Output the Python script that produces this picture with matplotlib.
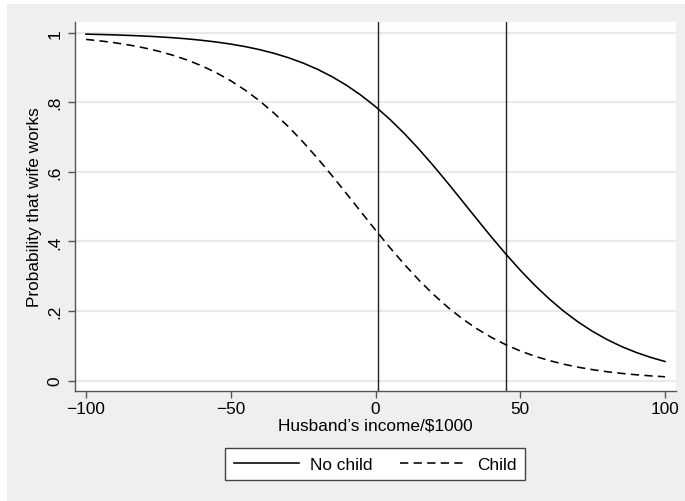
import matplotlib
matplotlib.use("Agg")
import matplotlib.pyplot as plt
from matplotlib.patches import Rectangle
from matplotlib.lines import Line2D

plt.rcParams['font.family'] = ['Liberation Sans', 'DejaVu Sans']

# Husband's income ($1000) at which the fitted probabilities are listed
income = [-100, -95, -90, -85, -80, -75, -70, -65, -60, -55, -50, -45, -40,
          -35, -30, -25, -20, -15, -10, -5, 0, 5, 10, 15, 20, 25, 30, 35,
          40, 45, 50, 55, 60, 65, 70, 75, 80, 85, 90, 95, 100]

# Probability that wife works, no child at home
p_no_child = [0.9958, 0.9948, 0.9936, 0.9921, 0.9904, 0.9882, 0.9855, 0.9822,
              0.9781, 0.9732, 0.9672, 0.9600, 0.9512, 0.9406, 0.9279, 0.9127,
              0.8947, 0.8735, 0.8488, 0.8202, 0.7875, 0.7507, 0.7099, 0.6654,
              0.6177, 0.5677, 0.5162, 0.4644, 0.4134, 0.3641, 0.3176, 0.2744,
              0.2351, 0.1998, 0.1687, 0.1416, 0.1182, 0.0982, 0.0813, 0.0671,
              0.0552]

# Probability that wife works, with a child
p_child = [0.9807, 0.9763, 0.9710, 0.9644, 0.9565, 0.9469, 0.9352, 0.9213,
           0.9047, 0.8849, 0.8618, 0.8348, 0.8038, 0.7685, 0.7291, 0.6857,
           0.6388, 0.5890, 0.5374, 0.4850, 0.4329, 0.3822, 0.3340, 0.2890,
           0.2479, 0.2108, 0.1780, 0.1493, 0.1246, 0.1034, 0.0855, 0.0704,
           0.0579, 0.0474, 0.0388, 0.0317, 0.0258, 0.0210, 0.0171, 0.0139,
           0.0113]

# Reference incomes marked with vertical lines
ref_income = [1, 45]

x_ticks = [-100, -50, 0, 50, 100]
x_tick_labels = ["\u2212100", "\u221250", "0", "50", "100"]
y_ticks = [0, 0.2, 0.4, 0.6, 0.8, 1.0]
y_tick_labels = ["0", ".2", ".4", ".6", ".8", "1"]

DASH = (5.2, 3.3)
FS = 12.4

W, H = 685, 502
fig = plt.figure(figsize=(W / 100, H / 100), dpi=100, facecolor="white")

# outer graph region
bg = Rectangle((7 / W, 0), 1 - 7 / W, 1 - 5 / H,
               transform=fig.transFigure, facecolor="#efefef",
               edgecolor="none", zorder=-10)
fig.patches.append(bg)

ax = fig.add_axes([75 / W, 1 - 392 / H, (676 - 75) / W, (392 - 23) / H])
ax.set_zorder(1)
ax.set_facecolor("white")

ax.set_xlim(-103.8, 103.8)
ax.set_ylim(-0.0296, 1.0307)

for yv in y_ticks:
    ax.axhline(yv, color="#e9e9e9", lw=1.6, zorder=1)

for xv in ref_income:
    ax.axvline(xv, color="#222222", lw=1.0, zorder=2)

ax.plot(income, p_no_child, color="black", lw=1.15, zorder=3,
        solid_joinstyle="round")
ax.plot(income, p_child, color="black", lw=1.15, dashes=DASH, zorder=3)

for s in ["top", "right"]:
    ax.spines[s].set_visible(False)
for s in ["left", "bottom"]:
    ax.spines[s].set_color("#555555")
    ax.spines[s].set_linewidth(1.0)

ax.set_xticks(x_ticks)
ax.set_xticklabels(x_tick_labels)
ax.set_yticks(y_ticks)
ax.set_yticklabels(y_tick_labels, rotation=90, va="center")
ax.tick_params(axis="both", direction="out", length=5, width=1.0,
               color="#555555", labelsize=FS, labelcolor="black")
ax.tick_params(axis="x", pad=2)
ax.tick_params(axis="y", pad=4)

ax.set_xlabel("Husband\u2019s income/$1000", fontsize=FS, labelpad=1)
ax.set_ylabel("Probability that wife works", fontsize=FS, labelpad=4)

handles = [Line2D([], [], color="black", lw=1.15),
           Line2D([], [], color="black", lw=1.15, dashes=DASH)]
leg = fig.legend(handles, ["No child", "Child"], loc="center",
                 bbox_to_anchor=(375 / W, 1 - 465 / H), ncol=2,
                 fontsize=FS, frameon=True, fancybox=False,
                 edgecolor="#444444", framealpha=1, handlelength=3.8,
                 handletextpad=0.65, columnspacing=1.6, borderpad=0.5)
leg.get_frame().set_linewidth(1.0)

fig.savefig("out.png", dpi=100, facecolor=fig.get_facecolor())
